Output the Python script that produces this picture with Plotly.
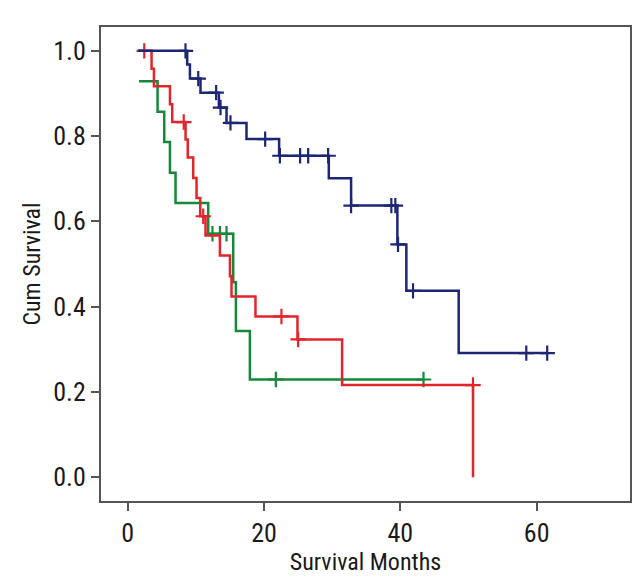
import plotly.graph_objects as go

# Kaplan-Meier steps: time of each step (months) and survival after it
blue_t = [1.5, 8.72, 9.12, 10.67, 13.37, 14.49, 17.42, 22.21, 29.5, 32.77, 39.56, 40.88, 48.56, 61.6]
blue_s = [1.0, 0.968, 0.935, 0.902, 0.867, 0.831, 0.793, 0.754, 0.701, 0.637, 0.546, 0.437, 0.291, 0.291]
blue_ct = [8.47, 10.34, 12.97, 13.61, 15.07, 20.16, 22.32, 25.29, 26.47, 29.4, 32.77, 38.68, 39.27, 39.66, 41.86, 58.48, 61.55]
blue_cs = [1.0, 0.935, 0.902, 0.867, 0.831, 0.793, 0.754, 0.754, 0.754, 0.754, 0.637, 0.637, 0.637, 0.546, 0.437, 0.291, 0.291]

red_t = [1.54, 3.49, 3.84, 6.19, 6.52, 8.48, 8.8, 9.6, 10.09, 10.63, 11.41, 13.52, 14.99, 15.22, 18.74, 24.9, 31.45, 50.66]
red_s = [1.0, 0.958, 0.917, 0.875, 0.833, 0.792, 0.75, 0.702, 0.655, 0.612, 0.567, 0.52, 0.471, 0.424, 0.377, 0.323, 0.216, 0.0]
red_ct = [2.42, 8.21, 11.07, 22.55, 25.0, 50.66]
red_cs = [1.0, 0.833, 0.612, 0.377, 0.323, 0.216]

green_t = [1.64, 4.37, 5.35, 6.19, 7.01, 11.8, 15.47, 15.87, 17.92, 43.5]
green_s = [0.929, 0.857, 0.786, 0.714, 0.643, 0.571, 0.457, 0.343, 0.229, 0.229]
green_ct = [12.43, 13.52, 14.49, 21.73, 43.4]
green_cs = [0.571, 0.571, 0.571, 0.229, 0.229]

y_ticks = [0.0, 0.2, 0.4, 0.6, 0.8, 1.0]
x_ticks = [0, 20, 40, 60]

FONT = "Liberation Sans Narrow, Roboto Condensed, Liberation Sans, sans-serif"

fig = go.Figure()
for t, s, ct, cs, col in [
    (green_t, green_s, green_ct, green_cs, "#16883a"),
    (red_t, red_s, red_ct, red_cs, "#e3242b"),
    (blue_t, blue_s, blue_ct, blue_cs, "#1c2675"),
]:
    fig.add_trace(go.Scatter(x=t, y=s, mode="lines", line=dict(color=col, width=2.5, shape="hv"),
                             showlegend=False, hoverinfo="skip"))
    fig.add_trace(go.Scatter(x=ct, y=cs, mode="markers",
                             marker=dict(symbol="cross-thin", size=11, line=dict(color=col, width=2.2)),
                             showlegend=False, hoverinfo="skip"))

axis_common = dict(showgrid=False, zeroline=False, showline=True, mirror=True,
                   linecolor="#555555", linewidth=2, ticks="outside", ticklen=8,
                   tickwidth=2, tickcolor="#555555",
                   tickfont=dict(family=FONT, size=26, color="#1a1a1a"))

fig.update_xaxes(range=[-3.93, 73.7], tickvals=x_ticks,
                 title=dict(text="Survival Months", font=dict(family=FONT, size=24, color="#1a1a1a"), standoff=4),
                 **axis_common)
fig.update_yaxes(range=[-0.056, 1.056], tickvals=y_ticks, tickformat=".1f",
                 title=dict(text="Cum Survival", font=dict(family=FONT, size=24, color="#1a1a1a"), standoff=6),
                 **axis_common)

fig.update_layout(width=640, height=578, plot_bgcolor="white", paper_bgcolor="white",
                  margin=dict(l=93, r=18, t=19, b=85))

fig.write_html("out.html")
